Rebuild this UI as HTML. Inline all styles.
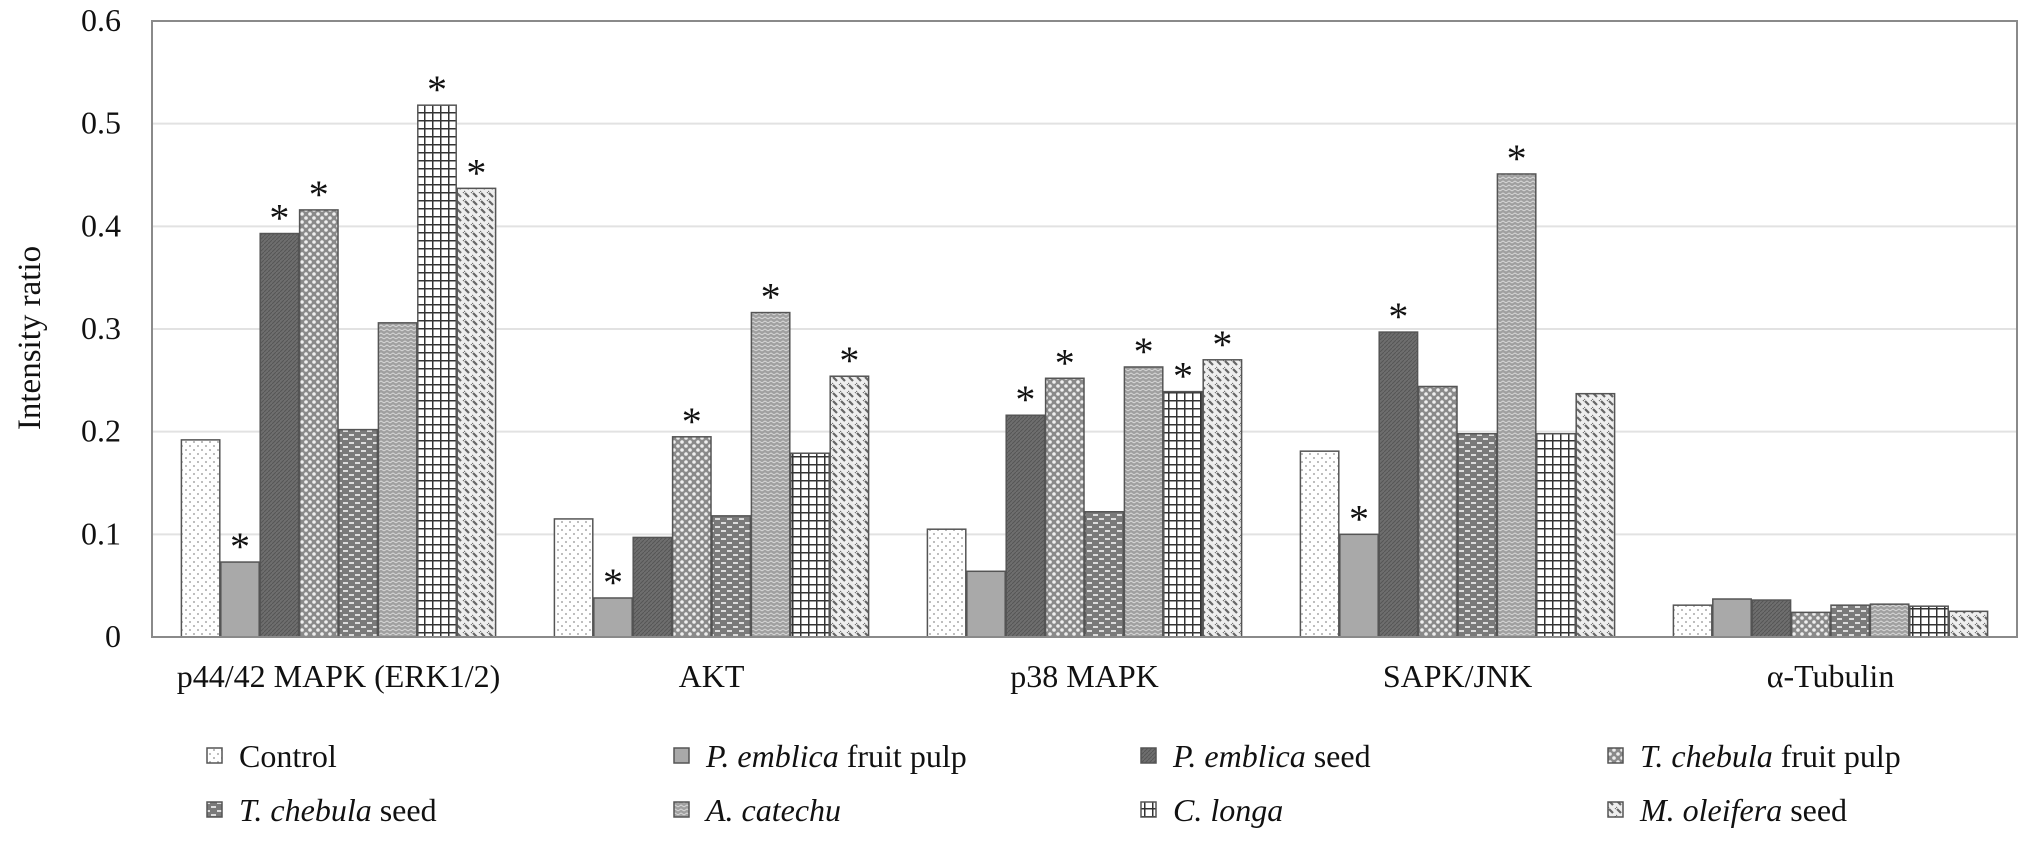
<!DOCTYPE html>
<html><head><meta charset="utf-8"><style>
body{margin:0;background:#fff}
svg text{font-family:"Liberation Serif",serif;fill:#111}
</style></head><body>
<svg id="chart" width="2031" height="842" xmlns="http://www.w3.org/2000/svg">
<defs>
<pattern id="p0" width="8" height="8" patternUnits="userSpaceOnUse"><rect width="8" height="8" fill="#fff"/><circle cx="2" cy="2" r="1" fill="#aaa"/><circle cx="6" cy="6" r="1" fill="#aaa"/></pattern>
<pattern id="p1" width="6" height="6" patternUnits="userSpaceOnUse"><rect width="6" height="6" fill="#a9a9a9"/></pattern>
<pattern id="p2" width="4" height="4" patternUnits="userSpaceOnUse"><rect width="4" height="4" fill="#6e6e6e"/><path d="M0 4L4 0" stroke="#555" stroke-width="1"/></pattern>
<pattern id="p3" width="8" height="8" patternUnits="userSpaceOnUse"><rect width="8" height="8" fill="#8a8a8a"/><circle cx="2" cy="2" r="1.8" fill="#eee"/><circle cx="6" cy="6" r="1.8" fill="#eee"/></pattern>
<pattern id="p4" width="12" height="8" patternUnits="userSpaceOnUse"><rect width="12" height="8" fill="#7a7a7a"/><rect x="1" y="2" width="5" height="2" fill="#ddd"/><rect x="7" y="6" width="5" height="2" fill="#ddd"/></pattern>
<pattern id="p5" width="6" height="4" patternUnits="userSpaceOnUse"><rect width="6" height="4" fill="#a0a0a0"/><path d="M0 3L3 1L6 3" stroke="#d8d8d8" fill="none" stroke-width="1"/></pattern>
<pattern id="p6" width="8" height="8" patternUnits="userSpaceOnUse"><rect width="8" height="8" fill="#fff"/><path d="M0 0.75H8M0.75 0V8" stroke="#333" stroke-width="1.5"/></pattern>
<pattern id="p7" width="8" height="8" patternUnits="userSpaceOnUse"><rect width="8" height="8" fill="#eee"/><path d="M1 1L5 5" stroke="#666" stroke-width="2.2"/><path d="M5 -3L9 1M-3 5L1 9" stroke="#666" stroke-width="2.2"/></pattern>
</defs>
<g id="grid"></g>
<g id="bars"></g>
<g id="axes"></g>
<g id="legend"></g>
</svg>
<script>
const categories = ["p44/42 MAPK (ERK1/2)", "AKT", "p38 MAPK", "SAPK/JNK", "α-Tubulin"];
const seriesNames = ["Control", "P. emblica|fruit pulp", "P. emblica|seed", "T. chebula|fruit pulp", "T. chebula|seed", "A. catechu|", "C. longa|", "M. oleifera|seed"];
const control   = [0.192, 0.115, 0.105, 0.181, 0.031];
const peFruit   = [0.073, 0.038, 0.064, 0.100, 0.037];
const peSeed    = [0.393, 0.097, 0.216, 0.297, 0.036];
const tcFruit   = [0.416, 0.195, 0.252, 0.244, 0.024];
const tcSeed    = [0.202, 0.118, 0.122, 0.198, 0.031];
const catechu   = [0.306, 0.316, 0.263, 0.451, 0.032];
const longa     = [0.518, 0.179, 0.239, 0.198, 0.030];
const oleifera  = [0.437, 0.254, 0.270, 0.237, 0.025];
const stars = [[1,2,3,6,7],[1,3,5,7],[2,3,5,6,7],[1,2,5],[]];
const yTicks = [0, 0.1, 0.2, 0.3, 0.4, 0.5, 0.6];
const yTickLabels = ["0","0.1","0.2","0.3","0.4","0.5","0.6"];

const series = [control, peFruit, peSeed, tcFruit, tcSeed, catechu, longa, oleifera];
const NS = "http://www.w3.org/2000/svg";
const L = 152, R = 2017, T = 21, B = 637;
const yMax = 0.6;
const y = v => B - v / yMax * (B - T);
const gw = (R - L) / categories.length;
const bw = 39.4;
const x = (g, s) => L + g * gw + (gw - bw * series.length) / 2 + s * bw;
function mk(tag, attrs, parent) { const e = document.createElementNS(NS, tag); for (const k in attrs) e.setAttribute(k, attrs[k]); parent.appendChild(e); return e; }
const grid = document.getElementById('grid'), bars = document.getElementById('bars'), axes = document.getElementById('axes'), leg = document.getElementById('legend');

yTicks.forEach((t, i) => {
  if (t > 0) { const gl = mk('line', {x1: L, x2: R, y1: y(t), y2: y(t), stroke: '#e2e2e2', 'stroke-width': 2}, grid);
    
     }
  const tl = mk('text', {x: 121, y: y(t) + 10, 'text-anchor': 'end', 'font-size': 32}, axes);
  tl.textContent = yTickLabels[i];
  
  
});
const frame = mk('rect', {x: L, y: T, width: R - L, height: B - T, fill: 'none', stroke: '#8a8a8a', 'stroke-width': 2}, axes);


const yt = mk('text', {x: 0, y: 0, transform: 'translate(40,338) rotate(-90)', 'text-anchor': 'middle', 'font-size': 33}, axes);
yt.textContent = 'Intensity ratio';



categories.forEach((c, g) => {
  series.forEach((arr, s) => {
    const v = arr[g];
    const r = mk('rect', {x: x(g, s) + 0.5, y: y(v), width: bw - 1, height: B - y(v), fill: 'url(#p' + s + ')', stroke: '#555', 'stroke-width': 1.5}, bars);
    
    
    if (stars[g].includes(s)) {
      const st = mk('text', {x: x(g, s) + bw / 2, y: y(v) - 2, 'text-anchor': 'middle', 'font-size': 40}, bars);
      st.textContent = '*';
      
      
    }
  });
  const cl = mk('text', {x: L + g * gw + gw / 2, y: 687, 'text-anchor': 'middle', 'font-size': 32}, axes);
  cl.textContent = c;
  
  
});

seriesNames.forEach((n, i) => {
  const col = i % 4, row = Math.floor(i / 4);
  const lx = 207 + col * 467, ly = 756 + row * 54;
  const m = mk('rect', {x: lx, y: ly - 8, width: 15, height: 15, fill: 'url(#p' + i + ')', stroke: '#555', 'stroke-width': 1.5}, leg);
  
  
  const t = mk('text', {x: lx + 32, y: ly + 11, 'font-size': 32}, leg);
  
  
  if (n.includes('|')) {
    const [a, b] = n.split('|');
    const ts = mk('tspan', {'font-style': 'italic'}, t); ts.textContent = a;
    if (b) { const tb = mk('tspan', {}, t); tb.textContent = ' ' + b; }
  } else t.textContent = n;
});
</script>
</body></html>
